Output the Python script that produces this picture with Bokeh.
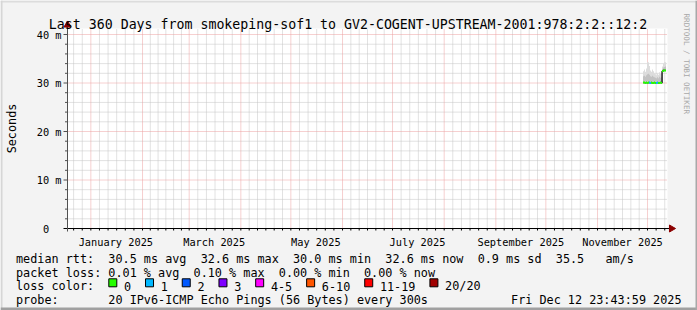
import math
import pandas as pd
from bokeh.plotting import figure
from bokeh.models import Range1d
from bokeh.core.properties import value
from bokeh.embed import file_html
from bokeh.resources import INLINE

FONT = "DejaVu Sans Mono"
NB = "\u00a0"

# ---------------- data ----------------
end_time = "2025-12-12 23:43:59"
span_days = 360
data_start = "2025-11-28 14:24"
step_seconds = 51840
y_top_ms = 41.24

median_ms = [30.1, 30.1, 30.0, 30.1, 30.0, 30.1, 30.1, 30.0, 30.1, 30.0, 30.0, 30.1,
             30.0, 30.0, 30.1, 30.0, 30.0, 30.1, 30.0, 32.4, 32.6, 32.6, 32.6]
smoke_min_ms = [29.9, 29.9, 29.8, 29.9, 29.8, 29.9, 29.9, 29.8, 29.9, 29.8, 29.8, 29.9,
                29.8, 29.8, 29.9, 29.8, 29.8, 29.9, 29.8, 30.0, 32.3, 32.4, 32.4]
smoke_mid_ms = [31.4, 31.5, 31.3, 31.6, 31.8, 31.9, 31.7, 31.4, 31.3, 31.5, 31.3, 31.2,
                31.1, 31.0, 31.2, 31.0, 31.3, 31.1, 31.2, 32.9, 33.2, 33.3, 33.4]
smoke_max_ms = [32.4, 32.8, 32.3, 33.0, 34.3, 34.3, 33.5, 32.6, 32.3, 32.8, 32.4, 32.0,
                31.8, 31.6, 32.0, 31.7, 32.2, 31.9, 32.0, 33.4, 34.0, 34.3, 34.3]
loss_count = [0, 0, 0, 0, 0, 0, 1, 1, 0, 0, 0, 0, 0, 1, 1, 0, 0, 0, 0, 0, 0, 0, 0]

loss_labels = ["0", "1", "2", "3", "4-5", "6-10", "11-19", "20/20"]
loss_colors = ["#26ff00", "#00b8ff", "#0059ff", "#7e00ff", "#ff00ff", "#ff5500", "#ff0000", "#a00000"]

y_ticks = [0, 10, 20, 30, 40]
y_tick_labels = ["0  ", "10 m", "20 m", "30 m", "40 m"]
y_minor_step = 2
month_label_months = ["2025-01", "2025-03", "2025-05", "2025-07", "2025-09", "2025-11"]
month_label_texts = ["January 2025", "March 2025", "May 2025", "July 2025", "September 2025", "November 2025"]

title = "Last 360 Days from smokeping-sof1 to GV2-COGENT-UPSTREAM-2001:978:2:2::12:2"
y_axis_title = "Seconds"
watermark = "RRDTOOL / TOBI OETIKER"
legend_rows = [
    "median rtt:  30.5 ms avg  32.6 ms max  30.0 ms min  32.6 ms now  0.9 ms sd  35.5   am/s",
    "packet loss: 0.01 % avg  0.10 % max  0.00 % min  0.00 % now",
    "loss color:",
    "probe:       20 IPv6-ICMP Echo Pings (56 Bytes) every 300s",
]
stamp = "Fri Dec 12 23:43:59 2025"

# ---------------- colours ----------------
BACK = "#f3f3f3"
AXIS = "#505050"
ARROW = "#8b0000"
MGRID = "#eda0a0"
GRID = "#c4c4c4"

# ---------------- helpers ----------------
def ms(ts):
    return pd.Timestamp(ts).value / 1e6

t_end = ms(end_time)
t_start = t_end - span_days * 86400e3
step_ms = step_seconds * 1e3
t0 = ms(data_start)
times = [t0 + i * step_ms for i in range(len(median_ms))]
lefts = [t - step_ms / 2 for t in times]
rights = [t + step_ms / 2 for t in times]

# graph canvas in page pixels: x 67..667, y 28..228
W, H = 697, 310
CX0, CX1, CY0, CY1 = 67, 667, 28, 228
U = (t_end - t_start) / (CX1 - CX0)
K = y_top_ms / (CY1 - CY0)

def X(px):
    return t_start + (px - CX0) * U

def Y(py):
    return (CY1 - py) * K

def nb(s):
    return s.replace(" ", NB)

def loss_color(n):
    if n <= 3:
        return loss_colors[n]
    if n <= 5:
        return loss_colors[4]
    if n <= 10:
        return loss_colors[5]
    if n <= 19:
        return loss_colors[6]
    return loss_colors[7]

months = pd.date_range("2024-12-01", "2026-01-01", freq="MS")
month_starts = [ms(m) for m in months]
minor_x = []
for a, b in zip(month_starts[:-1], month_starts[1:]):
    for k in range(1, 6):
        minor_x.append(a + (b - a) * k / 6)
grid_major_x = [m for m in month_starts if t_start < m < t_end]
grid_minor_x = [m for m in minor_x if t_start < m < t_end]
label_ticks = [ms(m + "-01") + 15 * 86400e3 for m in month_label_months]
y_minor = [v for v in range(y_minor_step, int(y_top_ms) + 1, y_minor_step) if v not in y_ticks]
yg = [v for v in y_ticks if v > 0]

# ---------------- figure ----------------
p = figure(width=W, height=H, output_backend="svg", toolbar_location=None,
           x_range=Range1d(X(0), X(W)), y_range=Range1d(Y(H), Y(0)),
           x_axis_location=None, y_axis_location=None,
           min_border_left=0, min_border_right=0, min_border_top=0, min_border_bottom=0)
p.background_fill_color = BACK
p.border_fill_color = BACK
p.outline_line_color = None
p.grid.visible = False

# 3-D frame shading
p.quad(left=[X(0)], right=[X(W)], top=[Y(0)], bottom=[Y(2)], fill_color="#dcdcdc", line_color=None)
p.quad(left=[X(0)], right=[X(2)], top=[Y(0)], bottom=[Y(H)], fill_color="#d6d6d6", line_color=None)
p.quad(left=[X(0)], right=[X(W)], top=[Y(H - 3)], bottom=[Y(H)], fill_color="#a0a0a0", line_color=None)
p.quad(left=[X(W - 2)], right=[X(W)], top=[Y(0)], bottom=[Y(H)], fill_color="#a8a8a8", line_color=None)

# white graph canvas
p.quad(left=[t_start], right=[t_end], bottom=[0], top=[y_top_ms], fill_color="white", line_color=None)

# grid lines (dotted)
p.segment(x0=grid_minor_x, x1=grid_minor_x, y0=[0] * len(grid_minor_x), y1=[y_top_ms] * len(grid_minor_x),
          line_color=GRID, line_width=1, line_dash="1 1")
p.segment(x0=[t_start] * len(y_minor), x1=[t_end] * len(y_minor), y0=y_minor, y1=y_minor,
          line_color=GRID, line_width=1, line_dash="1 1")
p.segment(x0=grid_major_x, x1=grid_major_x, y0=[0] * len(grid_major_x), y1=[y_top_ms] * len(grid_major_x),
          line_color=MGRID, line_width=1, line_dash="1 1")
p.segment(x0=[t_start] * len(yg), x1=[t_end] * len(yg), y0=yg, y1=yg,
          line_color=MGRID, line_width=1, line_dash="1 1")

# smoke
p.quad(left=lefts, right=rights, bottom=smoke_min_ms, top=smoke_max_ms,
       fill_color="#dcdcdc", line_color=None)
p.quad(left=lefts, right=rights, bottom=smoke_min_ms, top=smoke_mid_ms,
       fill_color="#c2c2c2", line_color=None)
# median line coloured by loss
p.step(times, median_ms, mode="center", line_color="#000000", line_width=1.2)
p.segment(x0=lefts, x1=rights, y0=median_ms, y1=median_ms,
          line_color=[loss_color(n) for n in loss_count], line_width=2)

# ticks
all_x = grid_major_x + grid_minor_x
p.segment(x0=all_x, x1=all_x, y0=[0] * len(all_x), y1=[Y(CY1 + 2)] * len(all_x),
          line_color="#000000", line_width=1)
p.segment(x0=[X(63)] * len(yg), x1=[t_start] * len(yg), y0=yg, y1=yg, line_color=AXIS, line_width=1)
p.segment(x0=[X(64.5)] * len(y_minor), x1=[t_start] * len(y_minor), y0=y_minor, y1=y_minor,
          line_color=AXIS, line_width=1)

# axis lines and arrows
p.segment(x0=[X(63)], x1=[X(670)], y0=[0], y1=[0], line_color="#000000", line_width=1)
p.segment(x0=[t_start], x1=[t_start], y0=[Y(231)], y1=[Y(25)], line_color=AXIS, line_width=1)
p.scatter(x=[t_start], y=[Y(24.5)], marker="triangle", size=7, fill_color=ARROW, line_color=ARROW)
p.scatter(x=[X(671)], y=[0], marker="triangle", angle=-math.pi / 2, size=7,
          fill_color=ARROW, line_color=ARROW)

# axis tick labels (placed by the scales at the tick values)
p.text(x=[X(61)] * len(y_ticks), y=y_ticks, text=[nb(s) for s in y_tick_labels],
       text_align="right", text_baseline="middle", text_font=value(FONT),
       text_font_size=value("10.3px"), text_color="#000000")
p.text(x=label_ticks, y=[Y(241.5)] * len(label_ticks), text=[nb(s) for s in month_label_texts],
       text_align="center", text_baseline="alphabetic", text_font=value(FONT),
       text_font_size=value("10.3px"), text_color="#000000")
p.text(x=[X(11)], y=[y_top_ms / 2], text=[y_axis_title], angle=math.pi / 2,
       text_align="center", text_baseline="middle", text_font=value(FONT),
       text_font_size=value("11.8px"), text_color="#000000")

# title and watermark
p.text(x=[X(347.5)], y=[Y(24)], text=[nb(title)], text_align="center", text_baseline="alphabetic",
       text_font=value(FONT), text_font_size=value("13.25px"), text_color="#000000")
p.text(x=[X(686)], y=[Y(13)], text=[nb(watermark)], angle=-math.pi / 2, text_align="left",
       text_baseline="middle", text_font=value(FONT), text_font_size=value("7.6px"), text_color="#a8a8a8")

# legend
row_y = [258.3, 272.0, 285.7, 299.3]
p.text(x=[X(15.5)] * len(legend_rows), y=[Y(r) for r in row_y], text=[nb(r) for r in legend_rows],
       text_align="left", text_baseline="alphabetic", text_font=value(FONT),
       text_font_size=value("11.8px"), text_color="#000000")
p.text(x=[X(681)], y=[Y(row_y[3])], text=[nb(stamp)], text_align="right", text_baseline="alphabetic",
       text_font=value(FONT), text_font_size=value("11.8px"), text_color="#000000")

char_w = 7.12
bx = 108.3
box_l, box_x_text = [], []
for lab in loss_labels:
    box_l.append(bx)
    box_x_text.append(bx + 15.2)
    bx += 29.6 + char_w * len(lab)
p.quad(left=[X(b) for b in box_l], right=[X(b + 8) for b in box_l],
       top=[Y(row_y[2] - 7.4)] * len(box_l), bottom=[Y(row_y[2] + 0.6)] * len(box_l),
       fill_color=loss_colors, line_color="#000000", line_width=1)
p.text(x=[X(b) for b in box_x_text], y=[Y(row_y[2])] * len(loss_labels), text=loss_labels,
       text_align="left", text_baseline="alphabetic", text_font=value(FONT),
       text_font_size=value("11.8px"), text_color="#000000")

open("out.html", "w").write(file_html(p, INLINE))
